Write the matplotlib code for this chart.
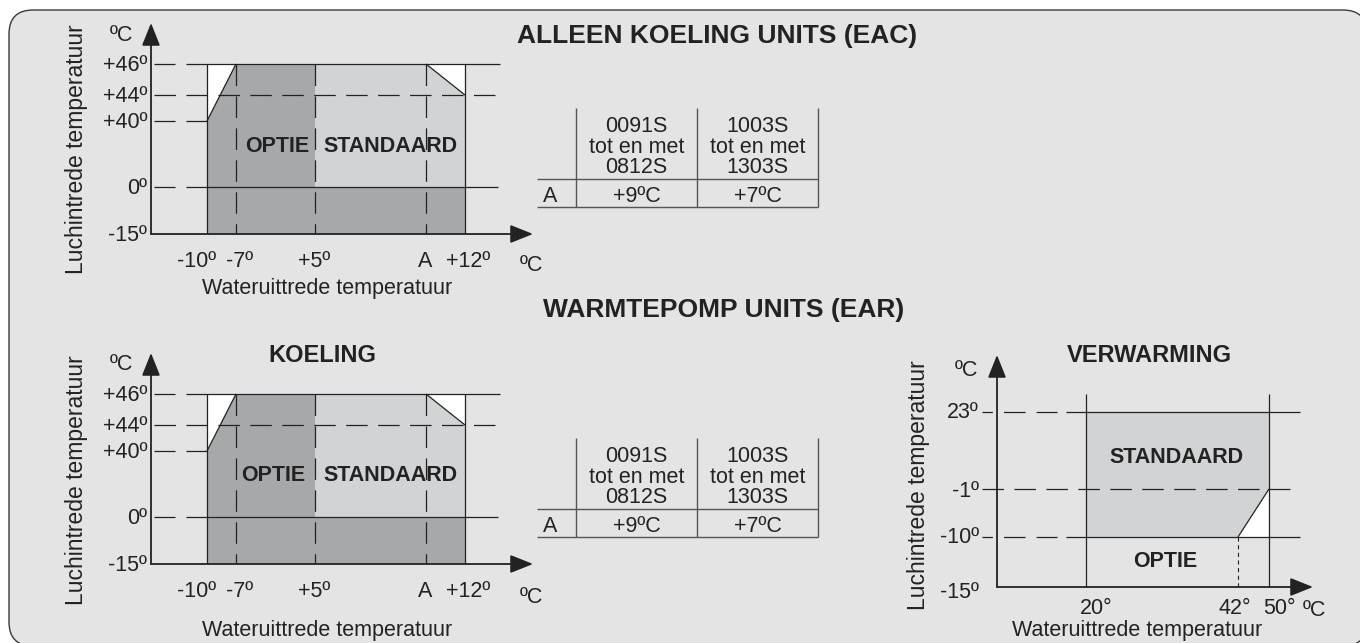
import numpy as np
import matplotlib
matplotlib.use('Agg')
import matplotlib.pyplot as plt
from matplotlib.patches import FancyBboxPatch

plt.rcParams['font.family'] = ['Liberation Sans', 'DejaVu Sans']
plt.rcParams['lines.scale_dashes'] = False
plt.rcParams['lines.solid_capstyle'] = 'butt'
plt.rcParams['lines.dash_capstyle'] = 'butt'

# ---------------------------------------------------------------- data
title_eac = 'ALLEEN KOELING UNITS (EAC)'
title_ear = 'WARMTEPOMP UNITS (EAR)'
title_cool = 'KOELING'
title_heat = 'VERWARMING'
x_title = 'Wateruittrede temperatuur'
y_title = 'Luchintrede temperatuur'
unit = 'ºC'
label_option = 'OPTIE'
label_standard = 'STANDAARD'

# cooling envelope: water outlet (x) vs air inlet (y); A = +9 for 0091S..0812S
cool_x_ticks = [-10, -7, 5, 9, 12]
cool_x_labels = ['-10º', '-7º', '+5º', 'A', '+12º']
cool_y_ticks = [-15, 0, 40, 44, 46]
cool_y_labels = ['-15º', '0º', '+40º', '+44º', '+46º']
cool_option_x = [-10, -10, -7, 5, 5, 12, 12]
cool_option_y = [-15, 40, 46, 46, 0, 0, -15]
cool_standard_x = [5, 5, 9, 12, 12]
cool_standard_y = [0, 46, 46, 44, 0]
cool_cut_left_x = [-10, -10, -7]
cool_cut_left_y = [40, 46, 46]
cool_cut_right_x = [9, 12, 12]
cool_cut_right_y = [46, 46, 44]

# heating envelope
heat_x_ticks = [20, 42, 50]
heat_x_labels = ['20°', '42°', '50°']
heat_y_ticks = [-15, -10, -1, 23]
heat_y_labels = ['-15º', '-10º', '-1º', '23º']
heat_standard_x = [20, 50, 50, 42, 20]
heat_standard_y = [23, 23, -1, -10, -10]
heat_cut_x = [42, 50, 50]
heat_cut_y = [-10, -1, -10]

# table
table_cols = ['0091S\ntot en met\n0812S', '1003S\ntot en met\n1303S']
table_row = 'A'
table_vals = ['+9ºC', '+7ºC']

# ---------------------------------------------------------------- style
PANEL = '#e4e4e4'
DARK = '#a7a8aa'
LIGHT = '#d2d3d5'
INK = '#222222'
TLINE = '#555555'
LW = 0.9
DASH = (0, (15.5, 7.5))
TICK_FS = 15.5

W, H = 1360, 643
fig = plt.figure(figsize=(W / 100, H / 100), dpi=100, facecolor='white')
bg = fig.add_axes([0, 0, 1, 1])
bg.set_xlim(0, W)
bg.set_ylim(H, 0)
bg.axis('off')

bg.add_patch(FancyBboxPatch((9, 10), 1358, 636,
                            boxstyle='round,pad=0,rounding_size=24',
                            fc=PANEL, ec='#3a3a3a', lw=1.0))

texts = []


def t(x, y, s, size, weight='normal', ha='center', rot=0):
    texts.append((x, y, s, size, weight, ha, rot))


def make_ax(xv, xp, yv, yp):
    xv = np.asarray(xv, float); xp = np.asarray(xp, float)
    yv = np.asarray(yv, float); ypn = -np.asarray(yp, float)
    L, R = xp[0], xp[-1]
    B, T = -ypn[0], -ypn[-1]
    ax = fig.add_axes([L / W, 1 - B / H, (R - L) / W, (B - T) / H])
    ax.set_xscale('function', functions=(lambda v: np.interp(v, xv, xp),
                                         lambda p: np.interp(p, xp, xv)))
    ax.set_yscale('function', functions=(lambda v: np.interp(v, yv, ypn),
                                         lambda p: np.interp(p, ypn, yv)))
    ax.set_xlim(xv[0], xv[-1])
    ax.set_ylim(yv[0], yv[-1])
    ax.axis('off')
    return ax, L, R - L, B, B - T


def tick_text(ax, s, xy, tr, dx, dy, size, ha='center'):
    ax.annotate(s, xy=xy, xycoords=tr, xytext=(dx, -dy - 0.497 * size),
                textcoords='offset pixels', ha=ha, va='baseline',
                fontsize=size, color=INK, annotation_clip=False)


def axis_arrows(ax):
    ap = dict(arrowstyle='-|>,head_length=0.7,head_width=0.28', color=INK,
              lw=1.3, shrinkA=0, shrinkB=0, mutation_scale=20)
    ax.annotate('', xy=(0, 1), xycoords='axes fraction', xytext=(0, 0),
                textcoords='axes fraction', arrowprops=ap, annotation_clip=False)
    ax.annotate('', xy=(1, 0), xycoords='axes fraction', xytext=(0, 0),
                textcoords='axes fraction', arrowprops=ap, annotation_clip=False)


def cooling_chart(dy):
    ax, L, Wd, B, Hd = make_ax([-14, -10, -7, 5, 9, 12, 16],
                               [151, 207, 236, 315, 426, 465, 533],
                               [-15, 0, 40, 44, 46, 52],
                               [234 + dy, 187 + dy, 121 + dy, 95 + dy, 64 + dy, 23 + dy])
    fx = lambda px: (px - L) / Wd
    ax.fill(cool_option_x, cool_option_y, color=DARK, lw=0, zorder=1)
    ax.fill(cool_standard_x, cool_standard_y, color=LIGHT, lw=0, zorder=1)
    ax.fill(cool_cut_left_x, cool_cut_left_y, color='white', lw=0, zorder=1)
    ax.fill(cool_cut_right_x, cool_cut_right_y, color='white', lw=0, zorder=1)
    yt = ax.get_yaxis_transform()
    y15, y0, y40, y44, y46 = cool_y_ticks
    # horizontal reference lines: short dash near the axis, then solid
    for yy, x1 in [(y46, 500), (y40, 207), (y0, 498)]:
        ax.plot([fx(154), fx(175)], [yy, yy], transform=yt, color=INK, lw=LW,
                clip_on=False, zorder=3)
        ax.plot([fx(186), fx(x1)], [yy, yy], transform=yt, color=INK,
                lw=LW, clip_on=False, zorder=3)
    ax.plot([fx(154), fx(495)], [y44, y44], transform=yt, color=INK, lw=LW,
            ls=DASH, clip_on=False, zorder=3)
    # solid verticals at envelope ends, dashed at -7, +5, A
    for xx in (cool_x_ticks[0], cool_x_ticks[-1]):
        ax.plot([xx, xx], [y15, y46], color=INK, lw=LW, zorder=3)
    for xx in cool_x_ticks[1:4]:
        ax.plot([xx, xx], [y46, y15], color=INK, lw=LW, ls=DASH, zorder=3)
    # cut-off diagonals
    ax.plot([cool_cut_left_x[0], cool_cut_left_x[2]],
            [cool_cut_left_y[0], cool_cut_left_y[2]], color=INK, lw=LW, zorder=3)
    ax.plot([cool_cut_right_x[0], cool_cut_right_x[2]],
            [cool_cut_right_y[0], cool_cut_right_y[2]], color=INK, lw=LW, zorder=3)
    axis_arrows(ax)
    for v, s in zip(cool_y_ticks, cool_y_labels):
        tick_text(ax, s, (0, v), yt, -4, -1, TICK_FS, ha='right')
    xt = ax.get_xaxis_transform()
    for v, s, ddx in zip(cool_x_ticks, cool_x_labels, [-10, 4, -1, -1, 3]):
        tick_text(ax, s, (v, 0), xt, ddx, 25, TICK_FS)
    return ax


# ---- ALLEEN KOELING (top)
cooling_chart(0)
t(717, 34, title_eac, 19, 'bold')
t(121, 33, unit, TICK_FS)
t(531, 263, unit, TICK_FS)
t(327, 286, x_title, 15.5)
t(76, 149, y_title, 16.5, rot=90)
t(277, 144, label_option, 15.5, 'bold')
t(390, 144, label_standard, 15.5, 'bold')

# ---- WARMTEPOMP KOELING (bottom-left)
cooling_chart(330)
t(724, 308, title_ear, 19, 'bold')
t(322, 354, title_cool, 17, 'bold')
t(121, 362, unit, TICK_FS)
t(531, 595, unit, TICK_FS)
t(327, 628, x_title, 15.5)
t(77, 480, y_title, 16.5, rot=90)
t(273, 473, label_option, 15.5, 'bold')
t(390, 473, label_standard, 15.5, 'bold')


# ---- tables
def draw_table(dy):
    for x in (576, 697, 818):
        bg.plot([x, x], [108 + dy, 207 + dy], color=TLINE, lw=1.0)
    for y in (179, 207):
        bg.plot([537, 818], [y + dy, y + dy], color=TLINE, lw=1.0)
    for cx, head, val in zip((636.5, 757.5), table_cols, table_vals):
        for line, yy in zip(head.split('\n'), (124, 145, 165)):
            t(cx, yy + dy, line, 15.5)
        t(cx, 194 + dy, val, 15.5)
    t(550, 194 + dy, table_row, 15.5)


draw_table(0)
draw_table(330)

# ---- VERWARMING (bottom-right)
hx, hL, hW, hB, hH = make_ax([10, 20, 42, 50, 56], [997, 1086, 1238, 1269, 1313],
                             [-15, -10, -1, 23, 30], [587, 537, 489, 412, 355])
fxh = lambda px: (px - hL) / hW
fyh = lambda px: (hB - px) / hH
hx.fill(heat_standard_x, heat_standard_y, color=LIGHT, lw=0, zorder=1)
hx.fill(heat_cut_x, heat_cut_y, color='white', lw=0, zorder=1)
hyt = hx.get_yaxis_transform()
hxt = hx.get_xaxis_transform()
h15, h10, h1, h23 = heat_y_ticks
for yy in (h23, h10):
    hx.plot([fxh(982), fxh(1057)], [yy, yy], transform=hyt, color=INK, lw=LW,
            ls=(8, (15.5, 8)), clip_on=False, zorder=3)
    hx.plot([fxh(1066), fxh(1300)], [yy, yy], transform=hyt, color=INK, lw=LW,
            clip_on=False, zorder=3)
hx.plot([fxh(982), fxh(1290)], [h1, h1], transform=hyt, color=INK, lw=LW,
        ls=(0, (15.5, 7.5)), clip_on=False, zorder=3)
for xx in (heat_x_ticks[0], heat_x_ticks[2]):
    hx.plot([xx, xx], [0, fyh(394)], transform=hxt, color=INK, lw=LW,
            clip_on=False, zorder=3)
hx.plot([heat_x_ticks[1]] * 2, [h10, h15], color=INK, lw=0.8,
        ls=(0, (3, 2.5)), zorder=3)
hx.plot([heat_cut_x[0], heat_cut_x[1]], [heat_cut_y[0], heat_cut_y[1]],
        color=INK, lw=LW, zorder=3)
axis_arrows(hx)
for v, s, ddy in zip(heat_y_ticks, heat_y_labels, [3, -2, 0, -2]):
    tick_text(hx, s, (0, v), hyt, -18, ddy, TICK_FS, ha='right')
for v, s, ddx in zip(heat_x_ticks, heat_x_labels, [10, -3, 10]):
    tick_text(hx, s, (v, 0), hxt, ddx, 19, TICK_FS)
t(1149, 354, title_heat, 17, 'bold')
t(966, 368, unit, TICK_FS)
t(1314, 608, unit, TICK_FS)
t(1137, 628, x_title, 15.5)
t(918, 485, y_title, 16.5, rot=90)
t(1176, 455, label_standard, 15.5, 'bold')
t(1165, 559, label_option, 15.5, 'bold')

# ---- text overlay (on top of all chart fills)
fg = fig.add_axes([0, 0, 1, 1])
fg.set_xlim(0, W)
fg.set_ylim(H, 0)
fg.axis('off')
for x, y, s, size, weight, ha, rot in texts:
    if rot:
        fg.text(x, y, s, fontsize=size, fontweight=weight, ha=ha, va='center',
                rotation=rot, color=INK)
    else:
        fg.text(x, y + 0.497 * size, s, fontsize=size, fontweight=weight,
                ha=ha, va='baseline', color=INK)

fig.savefig('out.png', dpi=100, facecolor='white')
